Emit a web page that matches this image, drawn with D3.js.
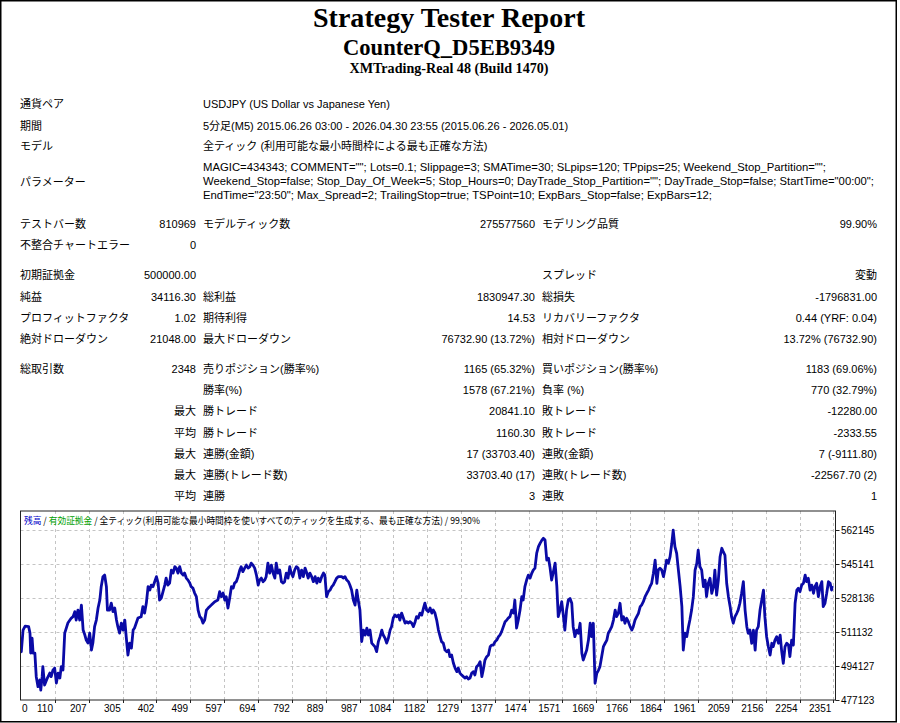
<!DOCTYPE html>
<html>
<head>
<meta charset="utf-8">
<script src="https://cdn.jsdelivr.net/npm/d3@7"></script>
<style>
  body { margin: 0; background: #fff; }
</style>
</head>
<body>
<div id="report"></div>
<script>
// ---- report header ----
const titleLines = ["Strategy Tester Report", "CounterQ_D5EB9349", "XMTrading-Real 48 (Build 1470)"];

// ---- settings block ----
const infoLabels = ["通貨ペア", "期間", "モデル", "パラメーター"];
const infoValues = [
  "USDJPY (US Dollar vs Japanese Yen)",
  "5分足(M5) 2015.06.26 03:00 - 2026.04.30 23:55 (2015.06.26 - 2026.05.01)",
  "全ティック (利用可能な最小時間枠による最も正確な方法)"
];
const paramLines = [
  'MAGIC=434343; COMMENT=""; Lots=0.1; Slippage=3; SMATime=30; SLpips=120; TPpips=25; Weekend_Stop_Partition="";',
  'Weekend_Stop=false; Stop_Day_Of_Week=5; Stop_Hours=0; DayTrade_Stop_Partition=""; DayTrade_Stop=false; StartTime="00:00";',
  'EndTime="23:50"; Max_Spread=2; TrailingStop=true; TSPoint=10; ExpBars_Stop=false; ExpBars=12;'
];

// ---- results table: label, value, label, value, label, value ----
const statRows = [
  ["テストバー数", "810969", "モデルティック数", "275577560", "モデリング品質", "99.90%"],
  ["不整合チャートエラー", "0", "", "", "", ""],
  ["初期証拠金", "500000.00", "", "", "スプレッド", "変動"],
  ["純益", "34116.30", "総利益", "1830947.30", "総損失", "-1796831.00"],
  ["プロフィットファクタ", "1.02", "期待利得", "14.53", "リカバリーファクタ", "0.44 (YRF: 0.04)"],
  ["絶対ドローダウン", "21048.00", "最大ドローダウン", "76732.90 (13.72%)", "相対ドローダウン", "13.72% (76732.90)"],
  ["総取引数", "2348", "売りポジション(勝率%)", "1165 (65.32%)", "買いポジション(勝率%)", "1183 (69.06%)"],
  ["", "", "勝率(%)", "1578 (67.21%)", "負率 (%)", "770 (32.79%)"],
  ["", "最大", "勝トレード", "20841.10", "敗トレード", "-12280.00"],
  ["", "平均", "勝トレード", "1160.30", "敗トレード", "-2333.55"],
  ["", "最大", "連勝(金額)", "17 (33703.40)", "連敗(金額)", "7 (-9111.80)"],
  ["", "最大", "連勝(トレード数)", "33703.40 (17)", "連敗(トレード数)", "-22567.70 (2)"],
  ["", "平均", "連勝", "3", "連敗", "1"]
];

// ---- chart ----
const chartLegend = ["残高", "有効証拠金", "全ティック(利用可能な最小時間枠を使いすべてのティックを生成する、最も正確な方法)", "99.90%"];
const xTickLabels = [0, 110, 207, 305, 402, 499, 597, 694, 792, 889, 987, 1084, 1182, 1279, 1377, 1474, 1571, 1669, 1766, 1864, 1961, 2059, 2156, 2254, 2351];
const yTickLabels = [477123, 494127, 511132, 528136, 545141, 562145];

// balance after trade no. [trade, balance]
const balanceCurve = [
  [0,500000],[13,501300],[18,512100],[24,514100],[34,513800],[38,510600],[40,500600],[44,508100],[47,500600],[52,500600],
  [56,488800],[61,483800],[66,487100],[69,482100],[73,488800],[75,493800],[80,484600],[88,488100],[95,490600],[99,488800],
  [104,492100],[109,493100],[114,485600],[119,490600],[124,488100],[128,493800],[133,492100],[138,510600],[147,515600],[157,518100],
  [162,518800],[167,521300],[171,517100],[176,522100],[181,517100],[186,524600],[191,512100],[196,509600],[200,507100],[205,505600],
  [210,510600],[215,502100],[219,505600],[224,513800],[229,517100],[234,523100],[239,527100],[243,533800],[248,538800],[253,539600],
  [258,533800],[261,522100],[267,522100],[272,525600],[277,521300],[282,523100],[287,517100],[291,513800],[296,510600],[301,515600],
  [306,512100],[311,517100],[315,508800],[320,499600],[325,505600],[330,503100],[335,512100],[339,513100],[344,515600],[349,518100],
  [358,518800],[363,523800],[368,520600],[373,525600],[378,533800],[383,532100],[387,534600],[392,533800],[397,536300],[402,538800],
  [407,535600],[411,527100],[416,528100],[421,531300],[426,534600],[430,538100],[435,534600],[440,535600],[445,542100],[450,540600],
  [455,543800],[459,543100],[464,540600],[469,543800],[474,540600],[479,539600],[483,540600],[488,538100],[493,537100],[498,535600],
  [502,533800],[507,533100],[512,530600],[517,528800],[522,522100],[527,518800],[531,518100],[536,515600],[541,517100],[546,522100],
  [551,523100],[555,523800],[560,524600],[570,526300],[579,527100],[584,531300],[589,528800],[594,530600],[599,527100],[603,528800],
  [608,523100],[613,528100],[618,533800],[623,533100],[627,535600],[632,536300],[637,538800],[642,542100],[646,543800],[651,541300],
  [656,543100],[661,544600],[666,543100],[671,543800],[675,545600],[680,544600],[685,543100],[690,539600],[695,534600],[699,537100],
  [704,538100],[709,536300],[714,537100],[718,538800],[723,545600],[728,540600],[733,544600],[738,540600],[743,538100],[747,545600],
  [752,540600],[757,542100],[762,536300],[767,535600],[771,536300],[776,540600],[781,538100],[786,543800],[790,540600],[795,538800],
  [800,542100],[805,543800],[810,543100],[815,538100],[820,542100],[825,538800],[830,543100],[835,540600],[839,538100],[844,540600],
  [849,538800],[854,536300],[859,538800],[864,535600],[868,538100],[873,536300],[878,538800],[883,540600],[887,539600],[892,528800],
  [897,531300],[902,532100],[907,533800],[911,534600],[916,536300],[921,538100],[926,538800],[936,538800],[940,538100],[945,538800],
  [950,537100],[955,536300],[959,534600],[964,532100],[969,527100],[974,524600],[979,532100],[983,527100],[988,522100],[993,506300],
  [998,512100],[1003,509600],[1008,513100],[1012,509600],[1017,512100],[1022,505600],[1027,504600],[1031,503800],[1036,501300],[1041,506300],
  [1046,508800],[1051,512100],[1055,509600],[1060,508100],[1065,505600],[1070,508100],[1075,512100],[1079,513800],[1084,518100],[1089,519600],
  [1094,518800],[1099,519600],[1103,517100],[1108,520600],[1113,518100],[1118,515600],[1123,516300],[1127,515600],[1132,516300],[1137,515600],
  [1142,513800],[1147,516300],[1151,518800],[1156,518100],[1161,520600],[1166,519600],[1171,523100],[1175,525600],[1180,522100],[1185,521300],
  [1190,523100],[1195,520600],[1199,522100],[1204,520600],[1209,517100],[1214,512100],[1219,508800],[1223,506300],[1228,505600],[1233,502100],
  [1238,501300],[1243,502100],[1247,498800],[1252,499600],[1257,495600],[1262,493100],[1267,491300],[1271,493100],[1276,490600],[1281,489600],
  [1286,488800],[1291,488100],[1295,488800],[1300,487600],[1305,488100],[1310,490600],[1315,491300],[1319,489600],[1324,493800],[1329,494600],
  [1334,496300],[1339,488800],[1343,492100],[1348,497100],[1353,498800],[1358,499600],[1363,503800],[1367,504600],[1372,504600],[1377,506300],
  [1382,507100],[1387,508800],[1391,509600],[1396,511300],[1401,513800],[1406,516300],[1411,517100],[1415,518100],[1420,518800],[1425,522100],
  [1430,520600],[1434,527100],[1439,513100],[1444,517100],[1449,522100],[1454,528800],[1458,527100],[1463,533800],[1468,537100],[1473,539600],
  [1478,538100],[1483,540600],[1487,542100],[1492,543100],[1497,550600],[1502,553800],[1507,555600],[1512,557100],[1516,558000],[1521,557100],
  [1526,547100],[1531,548000],[1535,543800],[1540,537100],[1545,541300],[1550,545600],[1555,533800],[1559,518800],[1564,522100],[1569,526300],
  [1574,518800],[1578,512100],[1583,522100],[1588,527100],[1593,527900],[1598,525500],[1602,513800],[1607,508800],[1612,512100],[1617,510500],
  [1622,515500],[1627,500500],[1631,497100],[1636,499600],[1641,502100],[1646,507100],[1651,515500],[1655,508800],[1660,515500],[1665,485500],
  [1670,490500],[1675,492100],[1679,493800],[1684,498800],[1689,503800],[1694,505500],[1699,507100],[1703,510500],[1708,512100],[1713,513800],
  [1718,517100],[1723,522100],[1727,518800],[1732,520500],[1737,525500],[1742,517100],[1747,518800],[1751,515500],[1756,518000],[1761,516300],
  [1766,513800],[1771,512100],[1775,513800],[1780,517100],[1785,518800],[1790,520500],[1795,523800],[1799,524600],[1804,526300],[1809,528800],
  [1814,530500],[1819,532100],[1823,533800],[1828,535500],[1833,540500],[1838,547100],[1843,535500],[1847,542100],[1852,543000],[1857,542100],
  [1862,538800],[1866,542100],[1871,547100],[1876,545500],[1881,548800],[1886,555500],[1890,562100],[1895,553800],[1900,550500],[1905,542100],
  [1910,533800],[1915,523800],[1919,502100],[1924,510500],[1929,508800],[1934,513800],[1938,517100],[1943,522100],[1948,528800],[1953,542100],
  [1958,545500],[1962,552100],[1967,543800],[1972,542100],[1977,533800],[1982,537100],[1986,528800],[1991,535500],[1996,538000],[2001,530500],
  [2006,533800],[2010,542100],[2015,529600],[2020,537100],[2025,548800],[2030,553000],[2034,551300],[2039,549600],[2044,535500],[2049,528800],
  [2054,523800],[2058,518800],[2063,515500],[2068,518800],[2073,520500],[2077,522100],[2082,525500],[2087,530500],[2092,536300],[2097,522100],
  [2102,513800],[2106,510500],[2111,512100],[2116,505500],[2121,512100],[2126,502100],[2130,512100],[2135,513800],[2140,522100],[2145,527100],
  [2150,532100],[2154,518800],[2159,508800],[2164,503800],[2169,499600],[2174,505500],[2178,503800],[2183,507100],[2188,508800],[2193,505500],
  [2198,509600],[2202,502100],[2207,495500],[2212,503800],[2217,505500],[2222,504600],[2226,498800],[2231,507100],[2236,504600],[2241,525500],
  [2246,532100],[2250,533000],[2255,531300],[2260,534600],[2265,535500],[2270,539600],[2274,536300],[2279,538000],[2284,532100],[2289,534600],
  [2294,530500],[2298,533800],[2303,535500],[2308,528800],[2313,533800],[2318,536300],[2322,523800],[2327,525500],[2332,530500],[2337,536300],
  [2342,535500],[2346,532100],[2348,534116.3]
];

const W = 900, H = 723;
const sansFont = "'Liberation Sans', 'Noto Sans CJK JP', sans-serif";
const serifFont = "'Liberation Serif', 'DejaVu Serif', serif";

const svg = d3.select('#report').append('svg')
  .attr('width', W)
  .attr('height', H)
  .style('display', 'block');

svg.append('rect')
  .attr('x', 0.75).attr('y', 0.75)
  .attr('width', 895.5).attr('height', 721)
  .attr('fill', '#fff')
  .attr('stroke', '#000')
  .attr('stroke-width', 1.5);

// titles (widths fitted to the report's Times rendering)
const titleStyle = [
  { size: 28, y: 27, len: 272 },
  { size: 22.5, y: 55, len: 212 },
  { size: 14, y: 73, len: 199 }
];
svg.selectAll('text.title')
  .data(titleLines)
  .enter().append('text')
  .attr('class', 'title')
  .attr('x', 449)
  .attr('y', (d, i) => titleStyle[i].y)
  .attr('text-anchor', 'middle')
  .attr('textLength', (d, i) => titleStyle[i].len)
  .attr('lengthAdjust', 'spacingAndGlyphs')
  .style('font-family', serifFont)
  .style('font-weight', 'bold')
  .style('font-size', (d, i) => titleStyle[i].size + 'px')
  .text(d => d);

const table = svg.append('g')
  .style('font-family', sansFont)
  .style('font-size', '11px')
  .style('fill', '#000');

const col = { label1: 20, value1: 196, label2: 203, value2: 535, label3: 542, value3: 877 };

// settings rows
const infoY = [108, 130, 150, 186];
table.selectAll('text.infoLabel')
  .data(infoLabels)
  .enter().append('text')
  .attr('x', col.label1)
  .attr('y', (d, i) => infoY[i])
  .text(d => d);

table.selectAll('text.infoValue')
  .data(infoValues)
  .enter().append('text')
  .attr('x', col.label2)
  .attr('y', (d, i) => infoY[i])
  .text(d => d);

const paramY = [171, 185, 199];
const paramLen = [623, 671, 509];
table.selectAll('text.param')
  .data(paramLines)
  .enter().append('text')
  .attr('x', col.label2)
  .attr('y', (d, i) => paramY[i])
  .attr('textLength', (d, i) => paramLen[i])
  .attr('lengthAdjust', 'spacingAndGlyphs')
  .text(d => d);

// result rows
const rowY = [228, 249, 279, 301, 322, 343, 373, 394, 415, 437, 458, 479, 500];
const cellX = [col.label1, col.value1, col.label2, col.value2, col.label3, col.value3];
statRows.forEach((row, r) => {
  table.selectAll(null)
    .data(row)
    .enter().append('text')
    .attr('x', (d, i) => cellX[i])
    .attr('y', rowY[r])
    .attr('text-anchor', (d, i) => (i % 2 === 1 ? 'end' : 'start'))
    .text(d => d);
});

// ---- balance graph ----
const plot = { left: 20.5, right: 835.5, top: 511, bottom: 700 };

const x = d3.scaleLinear().domain([0, 2351]).range([16.8, 833.3]);
const y = d3.scaleLinear().domain([477123, 562145]).range([700, 530]);

const chart = svg.append('g');

chart.append('clipPath').attr('id', 'plotClip')
  .append('rect')
  .attr('x', plot.left).attr('y', plot.top)
  .attr('width', plot.right - plot.left).attr('height', plot.bottom - plot.top);

// dashed grid
chart.selectAll('line.vgrid')
  .data(xTickLabels.filter(d => d > 0))
  .enter().append('line')
  .attr('x1', d => Math.round(x(d)) + 0.5).attr('x2', d => Math.round(x(d)) + 0.5)
  .attr('y1', plot.top).attr('y2', plot.bottom)
  .attr('stroke', '#c4c4c4')
  .attr('stroke-dasharray', '3,3');

chart.selectAll('line.hgrid')
  .data(yTickLabels.slice(1))
  .enter().append('line')
  .attr('x1', plot.left).attr('x2', plot.right)
  .attr('y1', d => Math.round(y(d)) + 0.5).attr('y2', d => Math.round(y(d)) + 0.5)
  .attr('stroke', '#c4c4c4')
  .attr('stroke-dasharray', '3,3');

// balance line
const line = d3.line()
  .x(d => x(d[0]))
  .y(d => y(d[1]));

chart.append('path')
  .datum(balanceCurve)
  .attr('clip-path', 'url(#plotClip)')
  .attr('fill', 'none')
  .attr('stroke', '#0a0aa6')
  .attr('stroke-width', 2.8)
  .attr('stroke-linejoin', 'round')
  .attr('d', line);

// frame
chart.append('rect')
  .attr('x', plot.left).attr('y', plot.top)
  .attr('width', plot.right - plot.left).attr('height', plot.bottom - plot.top)
  .attr('fill', 'none')
  .attr('stroke', '#222')
  .attr('stroke-width', 1);

// legend row inside the plot: one text, squeezed horizontally to the reference width
const legendGroup = chart.append('g');
const legend = legendGroup.append('text')
  .attr('x', 0)
  .attr('y', 0)
  .style('font-family', "'Noto Sans CJK JP', sans-serif")
  .style('font-size', '9.5px');
legend.append('tspan').attr('fill', '#0000c8').text(chartLegend[0]);
legend.append('tspan').attr('fill', '#000').text(' / ');
legend.append('tspan').attr('fill', '#00a000').text(chartLegend[1]);
legend.append('tspan').attr('fill', '#000').text(' / ' + chartLegend[2] + ' / ' + chartLegend[3]);
const legendWidth = legend.node().getComputedTextLength() || 456;
legendGroup.attr('transform', `translate(24,524) scale(${456 / legendWidth},1)`);

// x axis labels and ticks
chart.selectAll('line.xtick')
  .data(xTickLabels.filter(d => d > 0))
  .enter().append('line')
  .attr('x1', d => Math.round(x(d)) + 0.5).attr('x2', d => Math.round(x(d)) + 0.5)
  .attr('y1', plot.bottom).attr('y2', plot.bottom + 3)
  .attr('stroke', '#222');

chart.selectAll('text.xlabel')
  .data(xTickLabels)
  .enter().append('text')
  .attr('x', d => (d === 0 ? plot.left + 1.5 : x(d) - 2))
  .attr('y', 712)
  .attr('text-anchor', d => (d === 0 ? 'start' : 'end'))
  .style('font-family', sansFont)
  .style('font-size', '10px')
  .text(d => d);

// y axis labels on the right
chart.selectAll('line.ytick')
  .data(yTickLabels)
  .enter().append('line')
  .attr('x1', plot.right).attr('x2', plot.right + 4)
  .attr('y1', d => Math.round(y(d)) + 0.5).attr('y2', d => Math.round(y(d)) + 0.5)
  .attr('stroke', '#222');

chart.selectAll('text.ylabel')
  .data(yTickLabels)
  .enter().append('text')
  .attr('x', 841)
  .attr('y', d => y(d) + 4)
  .style('font-family', sansFont)
  .style('font-size', '10px')
  .text(d => d);
</script>
</body>
</html>
